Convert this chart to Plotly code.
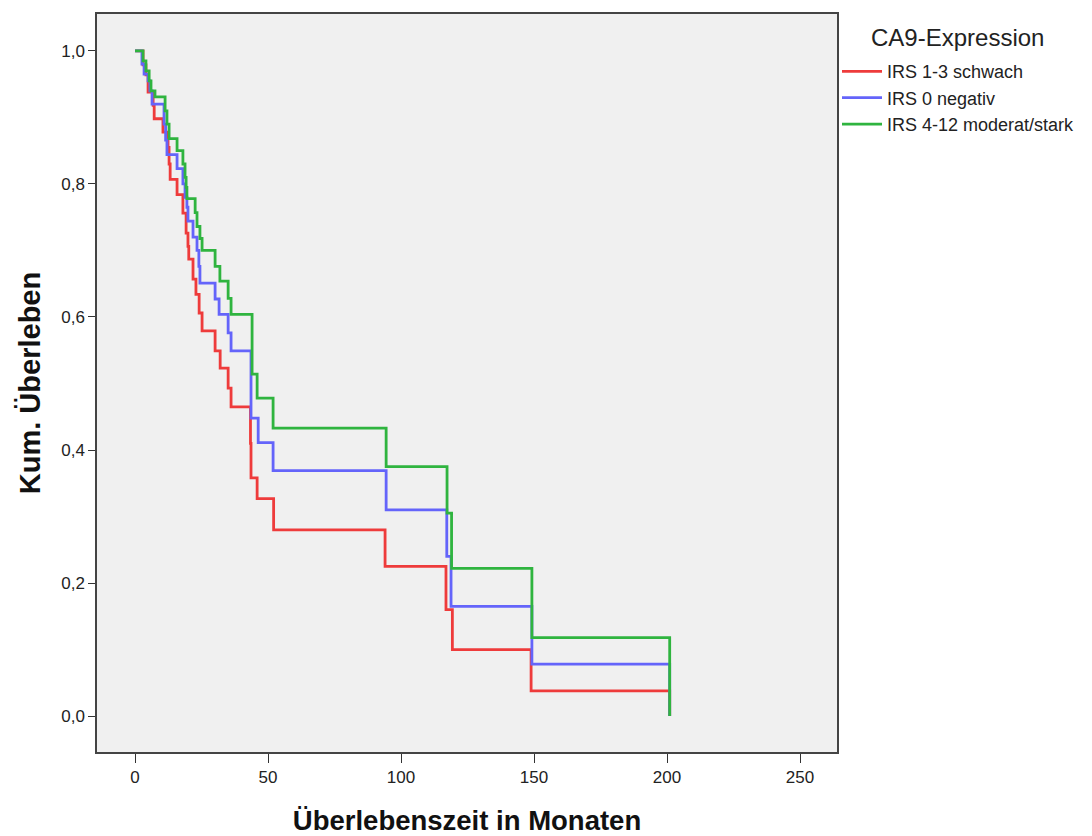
import plotly.graph_objects as go

# Kaplan-Meier steps (months, cumulative survival)
red_t = [0, 3.0, 4.1, 4.9, 6.8, 7.2, 10.5, 12.4, 12.8, 13.2, 15.8, 18.0, 19.2, 19.9, 20.2, 21.8,
         22.9, 24.1, 25.2, 30.1, 32.0, 35.0, 36.1, 43.4, 43.6, 45.9, 52.1, 94.0, 116.9, 119.3, 148.9, 201.0]
red_s = [1.0, 0.979, 0.964, 0.938, 0.918, 0.898, 0.878, 0.855, 0.83, 0.807, 0.784, 0.756, 0.726, 0.706,
         0.687, 0.657, 0.634, 0.606, 0.579, 0.549, 0.523, 0.493, 0.465, 0.41, 0.358, 0.327, 0.28, 0.225,
         0.16, 0.10, 0.038, 0.0]

blue_t = [0, 2.6, 3.4, 4.9, 5.6, 6.4, 10.9, 11.5, 12.0, 15.8, 18.0, 18.8, 19.5, 19.9, 21.8, 23.3, 24.0,
          24.4, 30.1, 31.6, 35.0, 36.1, 43.6, 46.3, 51.9, 94.4, 117.2, 118.8, 149.2, 201.0]
blue_s = [1.0, 0.98, 0.965, 0.955, 0.94, 0.92, 0.89, 0.866, 0.844, 0.823, 0.80, 0.78, 0.765, 0.744, 0.72,
          0.70, 0.676, 0.651, 0.627, 0.604, 0.576, 0.549, 0.448, 0.411, 0.369, 0.31, 0.24, 0.165, 0.078, 0.0]

green_t = [0, 3.0, 4.1, 5.3, 6.0, 7.5, 11.3, 12.0, 12.8, 15.8, 18.0, 18.8, 19.2, 19.5, 22.6, 23.3, 24.4,
           25.2, 30.1, 31.9, 35.0, 36.1, 44.0, 45.9, 51.9, 94.4, 117.3, 119.0, 149.2, 201.0]
green_s = [1.0, 0.985, 0.97, 0.955, 0.94, 0.931, 0.91, 0.89, 0.868, 0.85, 0.83, 0.81, 0.795, 0.778, 0.757,
           0.736, 0.718, 0.70, 0.676, 0.654, 0.628, 0.604, 0.514, 0.478, 0.433, 0.375, 0.305, 0.222, 0.118, 0.0]

series_names = ["IRS 1-3 schwach", "IRS 0 negativ", "IRS 4-12 moderat/stark"]
series_colors = ["#EE3B3B", "#6464FA", "#2FB43F"]
legend_title = "CA9-Expression"

x_ticks = [0, 50, 100, 150, 200, 250]
y_ticks = [0.0, 0.2, 0.4, 0.6, 0.8, 1.0]

fig = go.Figure()
for name, t, s, c in zip(series_names, [red_t, blue_t, green_t], [red_s, blue_s, green_s], series_colors):
    fig.add_trace(go.Scatter(x=t, y=s, mode="lines", name=name,
                             line=dict(color=c, width=2.8, shape="hv")))

font_family = "Liberation Sans, Arial, sans-serif"
fig.update_layout(
    width=1084, height=828,
    margin=dict(l=89, r=255, t=4, b=84),
    paper_bgcolor="white",
    plot_bgcolor="#F0F0F0",
    separators=",.",
    font=dict(family=font_family, color="#222"),
    showlegend=True,
    legend=dict(
        x=1.0, y=0.947, xanchor="left", yanchor="top",
        font=dict(size=18, color="#222"),
        itemwidth=40, tracegroupgap=0,
        bgcolor="rgba(0,0,0,0)",
    ),
    annotations=[dict(
        text=legend_title, xref="paper", yref="paper", x=1.1635, y=0.968,
        xanchor="center", yanchor="middle", showarrow=False,
        font=dict(size=24, color="#222"),
    )],
    xaxis=dict(
        range=[-14.3, 263.9], tickvals=x_ticks, ticks="outside", ticklen=9, tickwidth=1.3,
        tickcolor="#333", showline=True, linecolor="#444", linewidth=1.5, mirror=True,
        showgrid=False, zeroline=False, tickfont=dict(size=17, color="#222"),
        title=dict(text="<b>Überlebenszeit in Monaten</b>", font=dict(size=27.5, color="#111"), standoff=25),
    ),
    yaxis=dict(
        range=[-0.054, 1.0555], tickvals=y_ticks, tickformat=".1f", ticks="outside", ticklen=7,
        tickwidth=1.3, tickcolor="#333", showline=True, linecolor="#444", linewidth=1.5, mirror=True,
        showgrid=False, zeroline=False, tickfont=dict(size=17, color="#222"),
        title=dict(text="<b>Kum. Überleben</b>", font=dict(size=29, color="#111"), standoff=12),
    ),
)

fig.write_html("out.html")
